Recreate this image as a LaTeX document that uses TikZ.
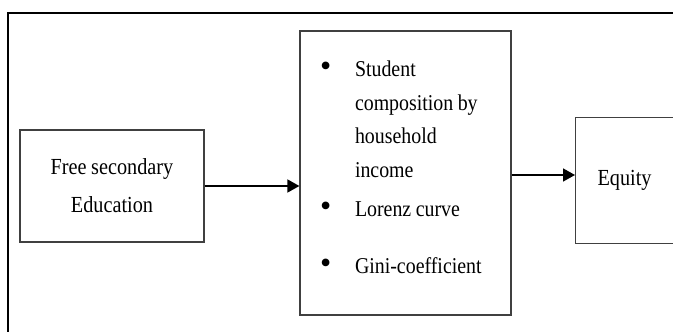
\documentclass[tikz,border=0pt]{standalone}
\usepackage{fontspec}
\setmainfont{Liberation Serif}
\newfontfamily\tallfont[FakeStretch=0.88,WordSpace=0.9]{Liberation Serif}
\usetikzlibrary{arrows.meta}
\newcommand{\bul}{\makebox[35pt][l]{\raisebox{0pt}{\normalfont\fontsize{32}{32}\selectfont •}}}
\begin{document}
\begin{tikzpicture}[x=1pt,y=1pt,
  box/.style={draw=black!75, line width=1.2pt, inner sep=0pt},
  frame/.style={line width=2.4pt, black},
  conn/.style={line width=1.6pt, -{Triangle[length=12pt,width=13pt]}}]
\useasboundingbox (0,0) rectangle (673,332);
\begin{scope}
\clip (0,0) rectangle (673,332);
\coordinate (fb) at (8,-10);
\coordinate (ftl) at (8,319);
\coordinate (fr) at (700,319);
\draw[frame] (fb) -- (ftl) -- (fr);
\node[box, minimum width=184pt, minimum height=112pt, align=center,
  font=\tallfont\fontsize{23}{38}\selectfont] (left) at (112,146)
  {Free secondary\\Education};
\node[box, minimum width=211pt, minimum height=284pt, text width=171pt, align=left,
  font=\tallfont\fontsize{22.6}{33.5}\selectfont] (mid) at (405.5,159)
  {\spaceskip=0pt\xspaceskip=0pt\bul Student\\
   \hspace*{35pt}composition by\\
   \hspace*{35pt}household\\
   \hspace*{35pt}income\\[6pt]
   \bul Lorenz curve\\[23pt]
   \bul Gini-coefficient\\[-22pt]\mbox{}};
\node[box, anchor=north west, minimum height=126pt, text width=86pt,
  inner xsep=22pt, align=left, font=\tallfont\fontsize{23}{28}\selectfont] (right) at (575,215)
  {Equity};
\draw[conn] (left.east) -- (left.east -| mid.west);
\draw[conn] ([yshift=-2pt]mid.east) -- ([yshift=-2pt]mid.east -| right.west);
\end{scope}
\end{tikzpicture}
\end{document}
